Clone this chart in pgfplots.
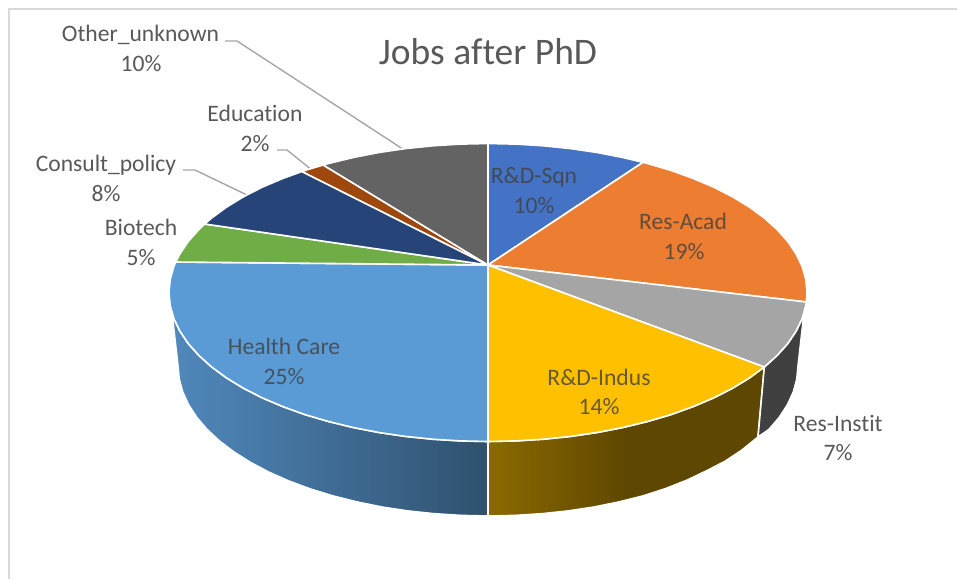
\documentclass[border=0pt]{standalone}
\usepackage{fontspec}
\setmainfont[Ligatures=CommonOff]{Carlito}
\usepackage{pgfplots}
\pgfplotsset{compat=1.18}
\definecolor{sqn}{HTML}{4472C4}
\definecolor{acad}{HTML}{ED7D31}
\definecolor{instit}{HTML}{A5A5A5}
\definecolor{indus}{HTML}{FFC000}
\definecolor{health}{HTML}{5B9BD5}
\definecolor{biotech}{HTML}{70AD47}
\definecolor{consult}{HTML}{264478}
\definecolor{edu}{HTML}{9E480E}
\definecolor{other}{HTML}{636363}
\definecolor{lab}{HTML}{595959}
\definecolor{lead}{HTML}{A6A6A6}
\definecolor{frame}{HTML}{D9D9D9}
\tikzset{
  lbl/.style={anchor=base,inner sep=0pt,text=lab,font=\fontsize{23.6}{28}\selectfont},
  inl/.style={anchor=base,inner sep=0pt,text=black!75,text opacity=.8,font=\fontsize{23.6}{28}\selectfont},
  sl/.style={draw=white,line width=1.6pt,line join=round,no markers},
}
\begin{document}
\begin{tikzpicture}
\path[use as bounding box] (0,0) rectangle (957pt,579pt);
\begin{axis}[
  at={(0,0)},anchor=south west,
  scale only axis,width=957pt,height=579pt,
  xmin=0,xmax=957,ymin=0,ymax=579,y dir=reverse,
  hide axis,clip=true,
]
% frame
\addplot[frame,line width=2pt,no markers] coordinates {(9,579)(9,9)(957,9)};
% leader lines
\addplot[lead,line width=1.4pt,no markers] coordinates {(225,41)(237,41)(402,148.5)};
\addplot[lead,line width=1.4pt,no markers] coordinates {(277,150)(287,150)(310,168.5)};
\addplot[lead,line width=1.4pt,no markers] coordinates {(183,170)(195,170)(247,195)};
% walls
\addplot[sl,left color=health!88!black,right color=health!52!black] coordinates {
 (488,441.5)(460.2,440.9)(432.6,439.2)(405.4,436.4)(378.9,432.5)(353.2,427.5)(328.5,421.5)(305,414.6)(282.9,406.6)(262.4,397.9)(243.6,388.3)(226.7,378)(211.7,367)(198.9,355.5)(188.2,343.5)(179.9,331.1)(173.8,318.4)(172,313)
 (178,366)(179.2,379)(182.7,392)(188.6,404.8)(196.7,417.3)(207,429.4)(219.5,441)(234,452)(250.5,462.4)(268.8,472.1)(288.7,480.9)(310.2,488.9)(333,495.9)(357,501.9)(382,507)(407.8,510.9)(434.2,513.7)(461,515.4)(488,516)(488,441.5)};
\addplot[sl,left color=indus!55!black,right color=indus!37!black,middle color=indus!37!black] coordinates {
 (488,441.5)(515.8,440.9)(543.4,439.2)(570.6,436.4)(597.1,432.5)(622.8,427.5)(647.5,421.5)(671,414.6)(693.1,406.6)(713.6,397.9)(732.4,388.3)(749.3,378)(764.3,367)
 (758,437)(742,450)(725.5,461)(707.2,470.5)(687.3,480)(665.8,488.5)(643,495.9)(619,501.9)(594,507)(568.2,510.9)(541.8,513.7)(515,515.4)(488,516)(488,441.5)};
\addplot[sl,fill=black!75] coordinates {
 (764.3,367)(777.1,355.5)(787.8,343.5)(796.1,331.1)(802.2,318.4)(804,313)
 (798,366)(796.8,379)(793.3,392)(787.4,404.8)(779.3,417.3)(769,429.4)(758,437)(764.3,367)};
% top slices
\addplot[sl,fill=sqn] coordinates {(488,265)(488,143.5)(515.8,144.1)(543.4,145.8)(570.6,148.6)(597.1,152.5)(622.8,157.5)(643,162.3)(488,265)};
\addplot[sl,fill=acad] coordinates {(488,265)(643,162.3)(647.5,163.5)(671,170.4)(693.1,178.4)(713.6,187.1)(732.4,196.7)(749.3,207)(764.3,218)(777.1,229.5)(787.8,241.5)(796.1,253.9)(802.2,266.6)(805.8,279.5)(807,292.5)(806.3,302)(488,265)};
\addplot[sl,fill=instit] coordinates {(488,265)(806.3,302)(805.8,305.5)(802.2,318.4)(796.1,331.1)(787.8,343.5)(777.1,355.5)(764.3,367)(488,265)};
\addplot[sl,fill=indus] coordinates {(488,265)(764.3,367)(749.3,378)(732.4,388.3)(713.6,397.9)(693.1,406.6)(671,414.6)(647.5,421.5)(622.8,427.5)(597.1,432.5)(570.6,436.4)(543.4,439.2)(515.8,440.9)(488,441.5)(488,265)};
\addplot[sl,fill=health] coordinates {(488,265)(488,441.5)(460.2,440.9)(432.6,439.2)(405.4,436.4)(378.9,432.5)(353.2,427.5)(328.5,421.5)(305,414.6)(282.9,406.6)(262.4,397.9)(243.6,388.3)(226.7,378)(211.7,367)(198.9,355.5)(188.2,343.5)(179.9,331.1)(173.8,318.4)(170.2,305.5)(169,292.5)(170.2,279.5)(173.8,266.6)(175.7,262)(488,265)};
\addplot[sl,fill=biotech] coordinates {(488,265)(175.7,262)(179.9,253.9)(188.2,241.5)(198.9,229.5)(204.7,224)(488,265)};
\addplot[sl,fill=consult] coordinates {(488,265)(204.7,224)(211.7,218)(226.7,207)(243.6,196.7)(262.4,187.1)(282.9,178.4)(302,171.5)(488,265)};
\addplot[sl,fill=edu] coordinates {(488,265)(302,171.5)(305,170.4)(323.2,165)(488,265)};
\addplot[sl,fill=other] coordinates {(488,265)(323.2,165)(328.5,163.5)(353.2,157.5)(378.9,152.5)(405.4,148.6)(432.6,145.8)(460.2,144.1)(488,143.5)(488,265)};
% text
\node[lbl,font=\fontsize{37.5}{42}\selectfont] at (488,64) {Jobs after PhD};
\node[lbl] at (140.5,41.7) {Other\_unknown};
\node[lbl] at (141,71) {10\%};
\node[lbl] at (255,121.7) {Education};
\node[lbl] at (255,151.7) {2\%};
\node[lbl] at (106,171.7) {Consult\_policy};
\node[lbl] at (106,201) {8\%};
\node[lbl] at (141,235.7) {Biotech};
\node[lbl] at (141,265) {5\%};
\node[lbl] at (838,431) {Res-Instit};
\node[lbl] at (838,460.7) {7\%};
\node[inl] at (534,183) {R\&D-Sqn};
\node[inl] at (534,213) {10\%};
\node[inl] at (683,229) {Res-Acad};
\node[inl] at (684,259) {19\%};
\node[inl] at (284,354) {Health Care};
\node[inl] at (284,384) {25\%};
\node[inl] at (599,385) {R\&D-Indus};
\node[inl] at (599,414) {14\%};
\end{axis}
\end{tikzpicture}
\end{document}
